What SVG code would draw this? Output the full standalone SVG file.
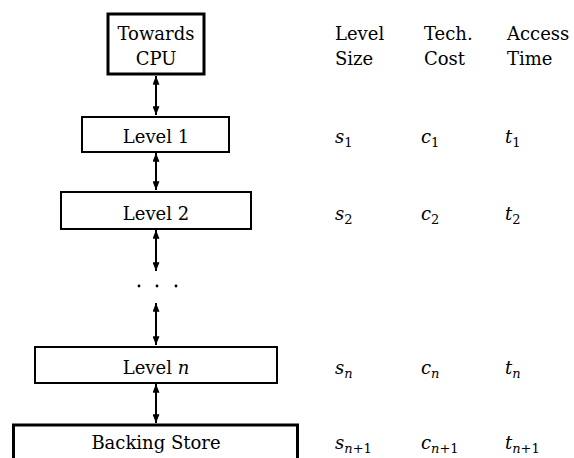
<svg xmlns="http://www.w3.org/2000/svg" width="574" height="458" viewBox="0 0 574 458">
<defs>
<style>
.t{font-family:'DejaVu Serif','Liberation Serif',serif;font-size:18px;fill:#000}
.c{text-anchor:middle}
.m{font-style:italic}
.sub{font-size:13px;font-style:normal}
.subi{font-size:13px;font-style:italic}
.box{fill:#fff;stroke:#000;stroke-width:2}
.thick{stroke-width:3}
.conn{stroke:#000;stroke-width:2;fill:none;marker-start:url(#ah);marker-end:url(#ah)}
</style>
<marker id="ah" viewBox="0 0 10 8" refX="10" refY="4" markerWidth="10" markerHeight="7" markerUnits="userSpaceOnUse" orient="auto-start-reverse">
<path d="M0,0 L10,4 L0,8 Z" fill="#000"/>
</marker>
</defs>
<rect width="574" height="458" fill="#fff"/>
<g id="connectors">
<line class="conn" x1="156" y1="76" x2="156" y2="115"/>
<line class="conn" x1="156" y1="153" x2="156" y2="190"/>
<line class="conn" x1="156" y1="230" x2="156" y2="271"/>
<line class="conn" x1="156" y1="303" x2="156" y2="345"/>
<line class="conn" x1="156" y1="384" x2="156" y2="423"/>
</g>
<g id="ellipsis">
<circle cx="139" cy="286" r="1.4"/>
<circle cx="157" cy="286" r="1.4"/>
<circle cx="176" cy="286" r="1.4"/>
</g>
<g id="cpu">
<rect class="box thick" x="108" y="14" width="96" height="60"/>
<text class="t c" x="156" y="40">Towards</text>
<text class="t c" x="156" y="65">CPU</text>
</g>
<g id="level1">
<rect class="box" x="82" y="117" width="147" height="35"/>
<text class="t c" x="156" y="143">Level 1</text>
</g>
<g id="level2">
<rect class="box" x="61" y="192" width="190" height="37"/>
<text class="t c" x="156" y="220">Level 2</text>
</g>
<g id="leveln">
<rect class="box" x="35" y="347" width="242" height="36"/>
<text class="t c" x="156" y="374">Level <tspan class="m">n</tspan></text>
</g>
<g id="backing">
<rect class="box thick" x="13.5" y="425" width="284" height="40"/>
<text class="t c" x="156" y="449">Backing Store</text>
</g>
<g id="table">
<text class="t" x="335" y="40">Level</text>
<text class="t" x="335" y="65">Size</text>
<text class="t" x="424" y="40">Tech.</text>
<text class="t" x="424" y="65">Cost</text>
<text class="t" x="507" y="40">Access</text>
<text class="t" x="507" y="65">Time</text>
<text class="t m" x="335" y="143">s<tspan class="sub" dy="4">1</tspan></text>
<text class="t m" x="421" y="143">c<tspan class="sub" dy="4">1</tspan></text>
<text class="t m" x="505" y="143">t<tspan class="sub" dy="4">1</tspan></text>
<text class="t m" x="335" y="220">s<tspan class="sub" dy="4">2</tspan></text>
<text class="t m" x="421" y="220">c<tspan class="sub" dy="4">2</tspan></text>
<text class="t m" x="505" y="220">t<tspan class="sub" dy="4">2</tspan></text>
<text class="t m" x="335" y="374">s<tspan class="subi" dy="4">n</tspan></text>
<text class="t m" x="421" y="374">c<tspan class="subi" dy="4">n</tspan></text>
<text class="t m" x="505" y="374">t<tspan class="subi" dy="4">n</tspan></text>
<text class="t m" x="335" y="449">s<tspan class="subi" dy="4">n</tspan><tspan class="sub">+1</tspan></text>
<text class="t m" x="421" y="449">c<tspan class="subi" dy="4">n</tspan><tspan class="sub">+1</tspan></text>
<text class="t m" x="505" y="449">t<tspan class="subi" dy="4">n</tspan><tspan class="sub">+1</tspan></text>
</g>
</svg>
